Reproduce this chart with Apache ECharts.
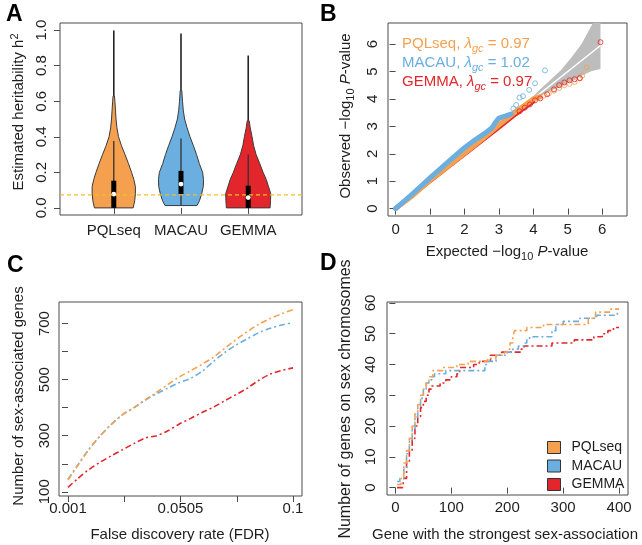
<!DOCTYPE html>
<html><head><meta charset="utf-8">
<script src="https://cdn.jsdelivr.net/npm/echarts@6/dist/echarts.min.js"></script>
<style>html,body{margin:0;padding:0;background:#fff}#c{width:642px;height:545px}</style>
</head><body><div id="c"></div>
<script>
// ---------------- data ----------------
const methods = ['PQLseq', 'MACAU', 'GEMMA'];

// Panel A: violin density profiles (relative density at heritability levels)
const pqlLevels   = [0, 0.04, 0.08, 0.12, 0.16, 0.2, 0.25, 0.3, 0.35, 0.4, 0.45, 0.5, 0.55, 0.6, 0.63];
const pqlDensity  = [0.86, 0.93, 0.96, 0.96, 0.89, 0.79, 0.65, 0.50, 0.34, 0.21, 0.14, 0.10, 0.075, 0.05, 0.03];
const macauLevels  = [0.013, 0.04, 0.08, 0.12, 0.16, 0.2, 0.25, 0.3, 0.35, 0.4, 0.45, 0.5, 0.55, 0.6, 0.66];
const macauDensity = [0.71, 0.82, 0.92, 0.99, 1.0, 0.96, 0.81, 0.69, 0.55, 0.40, 0.27, 0.16, 0.10, 0.067, 0.035];
const gemmaLevels  = [0, 0.04, 0.08, 0.12, 0.16, 0.2, 0.25, 0.3, 0.35, 0.4, 0.45, 0.49];
const gemmaDensity = [0.97, 0.99, 1.0, 0.90, 0.80, 0.66, 0.51, 0.35, 0.24, 0.17, 0.09, 0.044];
const h2WhiskerLow  = [0, 0.013, 0];
const h2WhiskerHigh = [0.376, 0.39, 0.30];
const h2Q1     = [0, 0.078, 0];
const h2Q3     = [0.153, 0.208, 0.125];
const h2Median = [0.077, 0.134, 0.058];
const h2Max    = [0.998, 0.981, 0.857];
const h2Threshold = 0.073;
const aTicks = [0, 0.2, 0.4, 0.6, 0.8, 1.0];

// Panel B: QQ plot
const qqBandX  = [3.9, 4.2, 4.5, 4.8, 5.1, 5.4, 5.7, 5.95];
const qqBandLo = [3.85, 4.1, 4.3, 4.45, 4.65, 4.85, 5.02, 5.09];
const qqBandHi = [3.98, 4.35, 4.7, 5.05, 5.5, 6.0, 6.7, 7.3];
const qqPqlBody   = [[0,0],[0.5,0.48],[1,1.03],[1.5,1.52],[2,2.02],[2.5,2.52],[3,3.05],[3.5,3.55],[4,4.0],[4.2,4.08]];
const qqPqlTail   = [[4.3,4.12],[4.45,4.2],[4.6,4.3],[4.75,4.4],[4.9,4.5],[5.05,4.55],[5.2,4.62],[5.35,4.75],[5.42,4.85],[5.55,5.15]];
const qqMacauBody = [[0,0],[0.5,0.55],[1,1.12],[1.5,1.68],[2,2.22],[2.3,2.5],[2.6,2.75],[2.8,2.95],[2.9,3.15],[3.0,3.3],[3.2,3.38],[3.35,3.45]];
const qqMacauTail = [[3.42,3.65],[3.5,3.78],[3.6,4.05],[3.7,4.1],[3.88,4.33],[4.05,4.57],[4.34,5.04]];
const qqGemmaBody = [[0,0],[1,1.0],[2,1.98],[3,2.95],[3.5,3.45],[4.0,3.9]];
const qqGemmaTail = [[3.6,3.55],[3.75,3.68],[3.9,3.8],[4.05,3.95],[4.2,4.02],[4.4,4.17],[4.6,4.35],[4.75,4.5],[4.9,4.6],[5.05,4.68],[5.2,4.72],[5.35,4.76],[5.95,6.07]];
const qqLambda = ['0.97', '1.02', '0.97'];
const bTicks = [0, 1, 2, 3, 4, 5, 6];

// Panel C: number of sex-associated genes vs FDR
const fdrLevels = [0.001,0.005,0.01,0.015,0.02,0.025,0.03,0.035,0.04,0.045,0.05,0.055,0.06,0.065,0.07,0.075,0.08,0.085,0.09,0.095,0.1];
const pqlGenes   = [142,190,248,298,340,375,400,428,455,483,510,532,555,580,612,643,672,698,718,735,750];
const macauGenes = [145,192,250,298,340,375,400,427,450,470,490,505,530,565,597,624,646,668,683,695,703];
const gemmaGenes = [116,145,178,205,228,250,272,292,300,318,342,362,383,402,425,447,470,498,520,533,542];
const fdrTickLabels = ['0.001', '', '0.0505', '', '0.1'];
const cYTicks  = [100, 200, 300, 400, 500, 600, 700];
const cYLabels = [100, 300, 500, 700];

// Panel D: genes on sex chromosomes among top genes
const pqlSexChr   = [[3,1],[10,3],[15,8],[20,12],[25,16],[30,20],[35,24],[40,27],[45,30],[50,32],[55,34],[60,36],[67,38],[85,39],[110,40],[130,41],[165,42],[180,43],[195,44],[200,45],[205,47],[210,49],[213,51],[235,52],[265,53],[335,53],[345,55],[358,57],[385,58],[400,58]];
const macauSexChr = [[3,2],[8,3],[15,6],[20,11],[25,15],[30,19],[35,23],[40,26],[45,29],[50,32],[55,34],[60,35],[65,36],[70,37],[90,38],[155,38],[160,40],[166,41],[180,43],[200,44],[210,45],[220,46],[230,47],[235,48],[240,49],[272,49],[280,51],[287,53],[300,54],[330,55],[345,55],[360,56],[393,56],[397,57],[400,57]];
const gemmaSexChr = [[3,0],[13,0],[15,3],[20,8],[25,12],[30,16],[35,20],[40,23],[45,26],[50,28],[55,30],[60,32],[65,33],[80,34],[90,35],[100,36],[110,37],[115,39],[140,40],[150,41],[170,43],[190,44],[225,45],[230,46],[270,46],[280,47],[300,47],[320,48],[340,48],[355,49],[370,50],[380,51],[390,52],[400,52]];
const dXTicks = [0, 100, 200, 300, 400];
const dYTicks = [0, 10, 20, 30, 40, 50, 60];

// ---------------- styles ----------------
const FONT = '"Liberation Sans", Arial, Helvetica, sans-serif';
const TXT = '#1e1e1e';
const FRAME = '#4a4a4a';
const COL = { PQLseq: '#F5A04F', MACAU: '#6BAEE0', GEMMA: '#E3262B' };
const THRESH_COL = '#F2BD2C';
const violinHalfWidth = 0.335;
const DASHDOT = [6, 3, 2, 3];

const violinProfiles = [
  { levels: pqlLevels, dens: pqlDensity },
  { levels: macauLevels, dens: macauDensity },
  { levels: gemmaLevels, dens: gemmaDensity }
];

function valAxis(gi, min, max, ticks, labels, fmt, isY, margin) {
  return {
    type: 'value', gridIndex: gi, min: min, max: max,
    axisLine: { show: false },
    splitLine: { show: false },
    axisTick: { show: true, inside: false, length: 6, customValues: ticks, lineStyle: { color: FRAME, width: 1 } },
    axisLabel: { show: true, customValues: labels, formatter: fmt, color: TXT, fontFamily: FONT, fontSize: 15,
                 margin: margin, rotate: isY ? 90 : 0 }
  };
}

const gridBase = { show: true, borderColor: FRAME, borderWidth: 1, backgroundColor: 'transparent' };

const rich = {
  n: { fontSize: 15, fontFamily: FONT, lineHeight: 20, verticalAlign: 'middle' },
  b: { fontSize: 16, fontFamily: FONT, lineHeight: 20, verticalAlign: 'middle' },
  i: { fontSize: 15, fontFamily: FONT, fontStyle: 'italic', lineHeight: 20, verticalAlign: 'middle' },
  s: { fontSize: 11, fontFamily: FONT, lineHeight: 11, verticalAlign: 'bottom' },
  si: { fontSize: 11, fontFamily: FONT, fontStyle: 'italic', lineHeight: 11, verticalAlign: 'bottom' },
  p: { fontSize: 11, fontFamily: FONT, lineHeight: 11, verticalAlign: 'top' }
};

function txt(text, x, y, rotated, extra) {
  return Object.assign({
    type: 'text', x: x, y: y, rotation: rotated ? Math.PI / 2 : 0, silent: true,
    style: { text: text, rich: rich, fill: TXT, font: '15px ' + FONT, align: 'center', verticalAlign: 'middle' }
  }, extra || {});
}
function letter(t, x, y) {
  return { type: 'text', x: x, y: y, silent: true,
    style: { text: t, fill: '#000', font: 'bold 23px ' + FONT, align: 'left', verticalAlign: 'top' } };
}

const chart = echarts.init(document.getElementById('c'), null, { renderer: 'canvas' });

const option = {
  animation: false,
  backgroundColor: '#fff',
  textStyle: { fontFamily: FONT },
  grid: [
    Object.assign({ left: 60, top: 23, width: 242, height: 192 }, gridBase),
    Object.assign({ left: 388, top: 23, width: 239, height: 193 }, gridBase),
    Object.assign({ left: 59, top: 302, width: 243, height: 194 }, gridBase),
    Object.assign({ left: 387, top: 302, width: 241, height: 193 }, gridBase)
  ],
  xAxis: [
    valAxis(0, 0.2, 3.8, [1, 2, 3], [1, 2, 3], v => methods[Math.round(v) - 1], false, 8),
    valAxis(1, -0.22, 6.72, bTicks, bTicks, v => String(v), false, 6),
    valAxis(2, -0.16, 4.16, [0, 1, 2, 3, 4], [0, 2, 4], v => fdrTickLabels[Math.round(v)], false, 5),
    valAxis(3, -15, 416, dXTicks, dXTicks, v => String(v), false, 5)
  ],
  yAxis: [
    valAxis(0, -0.04, 1.04, aTicks, aTicks, v => v.toFixed(1), true, 11),
    valAxis(1, -0.27, 6.77, bTicks, bTicks, v => String(v), true, 8),
    valAxis(2, 85, 777, cYTicks, cYLabels, v => String(v), true, 7),
    valAxis(3, -2.4, 60.3, dYTicks, dYTicks, v => String(v), true, 9)
  ],
  legend: {
    data: methods, orient: 'vertical', left: 542, top: 435.5, icon: 'rect',
    itemWidth: 13, itemHeight: 12, itemGap: 4.5, selectedMode: false,
    itemStyle: { borderColor: '#333', borderWidth: 1 },
    textStyle: { fontSize: 14, fontFamily: FONT, color: TXT, lineHeight: 14, padding: [0, 0, 0, 6] }
  },
  graphic: [
    letter('A', 6, 3), letter('B', 320, 3), letter('C', 7, 254), letter('D', 320, 252),
    txt('{n|Estimated heritability h}{p|2}', 19, 112, true),
    txt('{n|Expected \u2212log}{s|10}{n| }{i|P}{n|-value}', 507, 252, false),
    txt('{n|Observed \u2212log}{s|10}{n| }{i|P}{n|-value}', 346, 116, true),
    txt('{n|False discovery rate (FDR)}', 180, 535, false),
    txt('{n|Number of sex-associated genes}', 19, 396, true),
    txt('{n|Gene with the strongest sex-association}', 505, 535, false),
    txt('{b|Number of genes on sex chromosomes}', 346, 399, true)
  ].concat(methods.map((m, k) => ({
    type: 'text', x: 402, y: 44 + k * 19, silent: true,
    style: { text: '{n|' + m + ', }{i|\u03bb}{si|gc}{n| = ' + qqLambda[k] + '}', rich: rich, fill: COL[m],
             font: '15px ' + FONT, align: 'left', verticalAlign: 'middle' }
  }))),
  series: [
    // ---- A: violins ----
    {
      type: 'custom', xAxisIndex: 0, yAxisIndex: 0, z: 2,
      data: methods.map((m, i) => [i]),
      renderItem: function (params, api) {
        const i = api.value(0);
        const c = i + 1;
        const prof = violinProfiles[i];
        const pts = [];
        for (let k = 0; k < prof.levels.length; k++) pts.push(api.coord([c - prof.dens[k] * violinHalfWidth, prof.levels[k]]));
        for (let k = prof.levels.length - 1; k >= 0; k--) pts.push(api.coord([c + prof.dens[k] * violinHalfWidth, prof.levels[k]]));
        const top = api.coord([c, prof.levels[prof.levels.length - 1]]);
        const mx = api.coord([c, h2Max[i]]);
        const wl = api.coord([c, h2WhiskerLow[i]]);
        const wh = api.coord([c, h2WhiskerHigh[i]]);
        const q1 = api.coord([c, h2Q1[i]]);
        const q3 = api.coord([c, h2Q3[i]]);
        const md = api.coord([c, h2Median[i]]);
        return {
          type: 'group',
          children: [
            { type: 'line', shape: { x1: top[0], y1: top[1], x2: mx[0], y2: mx[1] }, style: { stroke: '#222', lineWidth: 1.6 } },
            { type: 'polygon', shape: { points: pts }, style: { fill: COL[methods[i]], stroke: '#3a3a3a', lineWidth: 1 } },
            { type: 'line', shape: { x1: wl[0], y1: wl[1], x2: wh[0], y2: wh[1] }, style: { stroke: '#333', lineWidth: 1.3 } },
            { type: 'line', shape: { x1: q1[0], y1: q1[1], x2: q3[0], y2: q3[1] }, style: { stroke: '#000', lineWidth: 5, lineCap: 'butt' } },
            { type: 'circle', shape: { cx: md[0], cy: md[1], r: 2.4 }, style: { fill: '#fff' } }
          ]
        };
      }
    },
    // threshold line across panel A
    {
      type: 'custom', xAxisIndex: 0, yAxisIndex: 0, z: 6, silent: true,
      data: [[h2Threshold]],
      renderItem: function (params, api) {
        const cs = params.coordSys;
        const p = api.coord([1, api.value(0)]);
        return {
          type: 'line',
          shape: { x1: cs.x, y1: p[1], x2: cs.x + cs.width, y2: p[1] },
          style: { stroke: THRESH_COL, lineWidth: 1.2, lineDash: [4, 3] }
        };
      }
    },
    // ---- B: QQ plot ----
    {
      type: 'custom', xAxisIndex: 1, yAxisIndex: 1, clip: true, z: 1,
      data: [[0]],
      renderItem: function (params, api) {
        const pts = [];
        for (let k = 0; k < qqBandX.length; k++) pts.push(api.coord([qqBandX[k], qqBandHi[k]]));
        for (let k = qqBandX.length - 1; k >= 0; k--) pts.push(api.coord([qqBandX[k], qqBandLo[k]]));
        return { type: 'polygon', shape: { points: pts }, style: { fill: '#BDBDBD' } };
      }
    },
    {
      type: 'line', xAxisIndex: 1, yAxisIndex: 1, z: 2, showSymbol: false, silent: true,
      data: [[qqBandX[0], qqBandX[0]], [qqBandX[qqBandX.length - 1], qqBandX[qqBandX.length - 1]]],
      lineStyle: { color: '#fff', width: 1.5 }
    },
    {
      name: 'GEMMA', type: 'line', xAxisIndex: 1, yAxisIndex: 1, z: 3, showSymbol: false,
      data: qqGemmaBody, itemStyle: { color: COL.GEMMA }, lineStyle: { color: COL.GEMMA, width: 4, cap: 'round' }
    },
    {
      name: 'PQLseq', type: 'line', xAxisIndex: 1, yAxisIndex: 1, z: 4, showSymbol: false,
      data: qqPqlBody, itemStyle: { color: COL.PQLseq }, lineStyle: { color: COL.PQLseq, width: 5, cap: 'round' }
    },
    {
      name: 'MACAU', type: 'line', xAxisIndex: 1, yAxisIndex: 1, z: 5, showSymbol: false,
      data: qqMacauBody, itemStyle: { color: COL.MACAU }, lineStyle: { color: COL.MACAU, width: 5, cap: 'round' }
    },
    ...[['PQLseq', qqPqlTail], ['MACAU', qqMacauTail], ['GEMMA', qqGemmaTail]].map(([m, d]) => ({
      name: m, type: 'scatter', xAxisIndex: 1, yAxisIndex: 1, z: 6, data: d,
      symbol: 'circle', symbolSize: 5,
      itemStyle: { color: 'rgba(255,255,255,0)', borderColor: COL[m], borderWidth: 1 }
    })),
    // ---- C: FDR curves ----
    ...[['GEMMA', gemmaGenes], ['MACAU', macauGenes], ['PQLseq', pqlGenes]].map(([m, d]) => ({
      name: m, type: 'line', xAxisIndex: 2, yAxisIndex: 2, showSymbol: false, smooth: 0.3,
      data: fdrLevels.map((f, k) => [(f - fdrLevels[0]) / ((fdrLevels[fdrLevels.length - 1] - fdrLevels[0]) / 4), d[k]]),
      itemStyle: { color: COL[m] }, lineStyle: { color: COL[m], width: 1.6, type: DASHDOT }
    })),
    // ---- D: step curves ----
    ...[['GEMMA', gemmaSexChr], ['MACAU', macauSexChr], ['PQLseq', pqlSexChr]].map(([m, d]) => ({
      name: m, type: 'line', xAxisIndex: 3, yAxisIndex: 3, showSymbol: false, step: 'end',
      data: d, itemStyle: { color: COL[m] }, lineStyle: { color: COL[m], width: 1.6, type: DASHDOT }
    }))
  ]
};
chart.setOption(option);
</script>
</body></html>
